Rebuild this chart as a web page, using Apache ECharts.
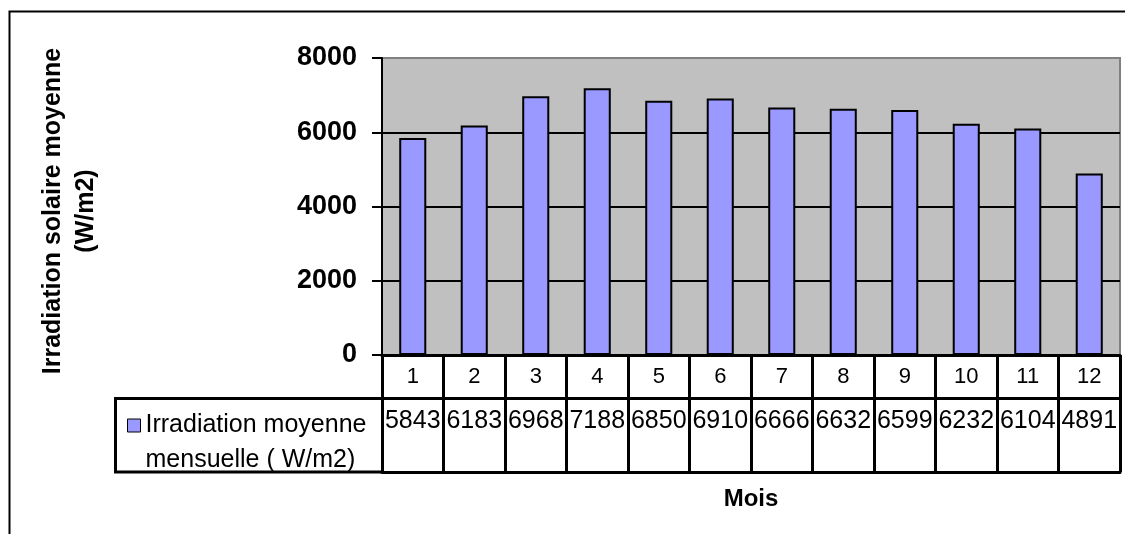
<!DOCTYPE html>
<html>
<head>
<meta charset="utf-8">
<script src="https://cdn.jsdelivr.net/npm/echarts@6/dist/echarts.min.js"></script>
<style>
html,body{margin:0;padding:0;background:#fff;}
#c{width:1125px;height:534px;}
</style>
</head>
<body>
<div id="c"></div>
<script>
const months = ['1','2','3','4','5','6','7','8','9','10','11','12'];
const irradiation = [5843, 6183, 6968, 7188, 6850, 6910, 6666, 6632, 6599, 6232, 6104, 4891];
const seriesName = 'Irradiation moyenne mensuelle ( W/m2)';
const yTitle = 'Irradiation solaire moyenne\n(W/m2)';
const xTitle = 'Mois';
const yMin = 0, yMax = 8000, yStep = 2000;

const FONT = 'Arial, "Liberation Sans", sans-serif';
const chart = echarts.init(document.getElementById('c'), null, {renderer: 'canvas'});

const option = {
  animation: false,
  backgroundColor: '#ffffff',
  grid: {
    left: 382, right: 5, top: 58, bottom: 179,
    show: true, backgroundColor: '#c0c0c0', borderColor: '#808080', borderWidth: 2
  },
  legend: {
    data: [seriesName],
    left: 127, top: 373, padding: 0,
    icon: 'rect', itemWidth: 13, itemHeight: 13,
    itemStyle: {color: '#9999ff', borderColor: '#000', borderWidth: 1},
    formatter: n => '\n' + n.replace(' mensuelle', '\nmensuelle'),
    textStyle: {fontFamily: FONT, fontSize: 25, color: '#000', lineHeight: 35}
  },
  xAxis: [
    {
      type: 'category', data: months, position: 'bottom', boundaryGap: true,
      name: xTitle, nameLocation: 'middle', nameGap: 132,
      nameTextStyle: {fontFamily: FONT, fontSize: 24, fontWeight: 'bold', color: '#000'},
      axisLine: {show: true, lineStyle: {color: '#000', width: 3}},
      axisTick: {show: true, length: 43, interval: 0, lineStyle: {color: '#000', width: 3}},
      axisLabel: {interval: 0, margin: 11, fontFamily: FONT, fontSize: 22, color: '#000'},
      splitLine: {show: false}
    },
    {
      type: 'category', data: irradiation.map(String), position: 'bottom', offset: 43, boundaryGap: true,
      axisLine: {show: true, lineStyle: {color: '#000', width: 3}},
      axisTick: {show: true, length: 74, interval: 0, lineStyle: {color: '#000', width: 3}},
      axisLabel: {interval: 0, margin: 11, fontFamily: FONT, fontSize: 25, color: '#000'},
      splitLine: {show: false}
    },
    {
      type: 'category', data: months, position: 'bottom', offset: 117, boundaryGap: true,
      axisLine: {show: true, lineStyle: {color: '#000', width: 3}},
      axisTick: {show: false}, axisLabel: {show: false}, splitLine: {show: false}
    }
  ],
  yAxis: {
    type: 'value', min: yMin, max: yMax, interval: yStep,
    axisLine: {show: true, lineStyle: {color: '#000', width: 2}},
    axisTick: {show: true, length: 10, lineStyle: {color: '#000', width: 2}},
    axisLabel: {margin: 25, fontFamily: FONT, fontSize: 27, fontWeight: 'bold', color: '#000',
                formatter: v => String(v)},
    splitLine: {show: true, showMaxLine: false, lineStyle: {color: '#000', width: 2}}
  },
  series: [{
    name: seriesName, type: 'bar', xAxisIndex: 0, data: irradiation, barWidth: '44%',
    itemStyle: {color: '#9999ff', borderColor: '#000', borderWidth: 2}
  }],
  graphic: [
    {type: 'rect', shape: {x: 9.5, y: 11.5, width: 1300, height: 700}, style: {fill: 'none', stroke: '#000', lineWidth: 2}, z: 100},
    {type: 'rect', shape: {x: 115.5, y: 398.5, width: 267, height: 73.5}, style: {fill: 'none', stroke: '#000', lineWidth: 3}, z: 100},
    {type: 'text', x: 70, y: 211, rotation: Math.PI / 2,
     style: {text: yTitle, align: 'center', verticalAlign: 'middle', font: 'bold 25px ' + FONT, lineHeight: 33, fill: '#000'}, z: 100}
  ]
};
chart.setOption(option);
</script>
</body>
</html>
